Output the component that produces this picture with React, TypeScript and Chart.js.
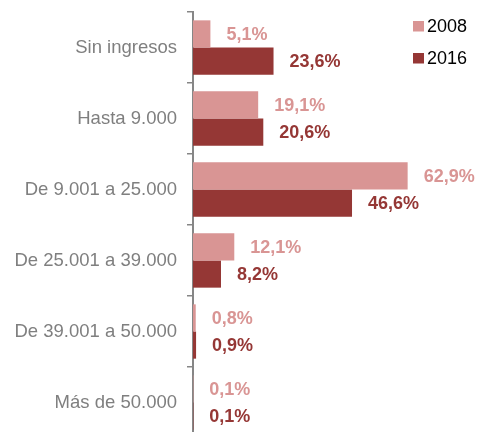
import React, { useEffect, useRef } from "react";
import { Chart, registerables } from "chart.js";

Chart.register(...registerables);

const categories = [
  "Sin ingresos",
  "Hasta 9.000",
  "De 9.001 a 25.000",
  "De 25.001 a 39.000",
  "De 39.001 a 50.000",
  "Más de 50.000",
];
const series2008 = [5.1, 19.1, 62.9, 12.1, 0.8, 0.1];
const series2016 = [23.6, 20.6, 46.6, 8.2, 0.9, 0.1];
const seriesNames = ["2008", "2016"];
const colors = ["#D99594", "#953735"];

const FONT = "'Liberation Sans', Arial, sans-serif";

const valueLabels = {
  id: "valueLabels",
  afterDatasetsDraw(chart: any) {
    const ctx = chart.ctx;
    ctx.save();
    ctx.font = `bold 18px ${FONT}`;
    ctx.textAlign = "left";
    ctx.textBaseline = "middle";
    chart.data.datasets.forEach((ds: any, i: number) => {
      const meta = chart.getDatasetMeta(i);
      ctx.fillStyle = ds.backgroundColor;
      meta.data.forEach((el: any, j: number) => {
        const v = ds.data[j] as number;
        const txt = v.toFixed(1).replace(".", ",") + "%";
        ctx.fillText(txt, el.x + 16, el.y + 1);
      });
    });
    ctx.restore();
  },
};

const customLegend = {
  id: "customLegend",
  afterDraw(chart: any) {
    const ctx = chart.ctx;
    ctx.save();
    ctx.font = `18px ${FONT}`;
    ctx.textAlign = "left";
    ctx.textBaseline = "middle";
    const x0 = chart.width - 67;
    chart.data.datasets.forEach((ds: any, i: number) => {
      const cy = 26 + i * 32;
      ctx.fillStyle = ds.backgroundColor;
      ctx.fillRect(x0, cy - 5, 11, 10.5);
      ctx.fillStyle = "#000000";
      ctx.fillText(ds.label, x0 + 14, cy + 1);
    });
    ctx.restore();
  },
};

export default function App() {
  const ref = useRef<HTMLCanvasElement | null>(null);

  useEffect(() => {
    document.body.style.margin = "0";
    document.body.style.overflow = "hidden";
    if (!ref.current) return;
    const chart = new Chart(ref.current, {
      type: "bar",
      data: {
        labels: categories,
        datasets: [
          {
            label: seriesNames[0],
            data: series2008,
            backgroundColor: colors[0],
            categoryPercentage: 0.765,
            barPercentage: 1.0,
          },
          {
            label: seriesNames[1],
            data: series2016,
            backgroundColor: colors[1],
            categoryPercentage: 0.765,
            barPercentage: 1.0,
          },
        ],
      },
      options: {
        indexAxis: "y",
        animation: false,
        responsive: true,
        maintainAspectRatio: false,
        layout: { padding: { top: 12, right: 14, bottom: 2, left: 0 } },
        plugins: {
          legend: { display: false },
          tooltip: { enabled: false },
        },
        scales: {
          x: {
            display: false,
            min: 0,
            max: 80,
          },
          y: {
            offset: true,
            afterFit(scale: any) {
              scale.width = 193;
              scale.paddingTop = 0;
              scale.paddingBottom = 0;
            },
            grid: {
              offset: true,
              drawOnChartArea: false,
              drawTicks: true,
              tickLength: 6,
              color: "#868686",
              lineWidth: 1.5,
            },
            border: { display: true, color: "#868686", width: 2 },
            ticks: {
              padding: 10,
              color: "#7F7F7F",
              font: { family: FONT, size: 18.5 },
            },
          },
        },
      },
      plugins: [valueLabels, customLegend],
    });
    return () => chart.destroy();
  }, []);

  return (
    <div style={{ width: 480, height: 440, position: "relative" }}>
      <canvas ref={ref} />
    </div>
  );
}
